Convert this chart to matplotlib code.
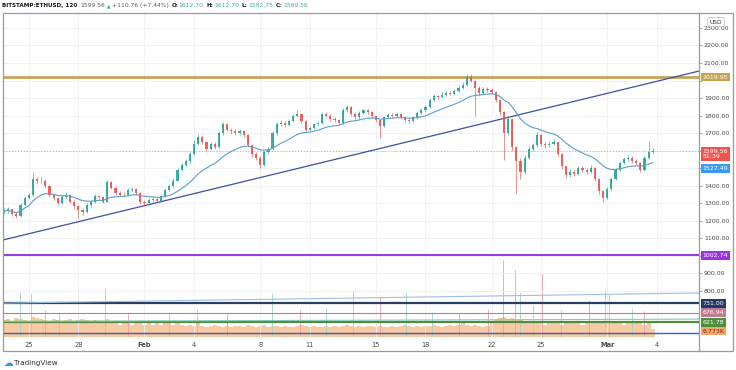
import numpy as np
import pandas as pd
import matplotlib
matplotlib.use("Agg")
import matplotlib.pyplot as plt
from matplotlib.lines import Line2D
from matplotlib.patches import Rectangle

W, H = 736, 370

# 6h candles, x in days counted from Feb 1 (first candle Jan 23 12:00)
first_day = -8.5
step = 0.25

closes = [1255, 1265, 1240, 1228, 1290, 1330, 1345, 1440, 1425, 1430,
          1400, 1350, 1330, 1300, 1335, 1350, 1310, 1285, 1260, 1250,
          1290, 1305, 1340, 1335, 1310, 1420, 1390, 1360, 1350, 1345,
          1375, 1380, 1360, 1310, 1300, 1320, 1325, 1315, 1340, 1375,
          1400, 1430, 1490, 1520, 1540, 1580, 1640, 1680, 1650, 1610,
          1640, 1620, 1700, 1750, 1720, 1710, 1700, 1710, 1690, 1630,
          1580, 1560, 1520, 1590, 1610, 1700, 1750, 1760, 1745, 1770,
          1800, 1810, 1770, 1720, 1730, 1750, 1760, 1810, 1800, 1780,
          1775, 1760, 1830, 1850, 1810, 1790, 1815, 1830, 1820, 1795,
          1775, 1740, 1790, 1805, 1800, 1810, 1790, 1775, 1770, 1790,
          1815, 1830, 1850, 1890, 1910, 1905, 1920, 1930, 1925, 1940,
          1960, 1975, 2020, 2000, 1960, 1930, 1950, 1945, 1935, 1890,
          1820, 1700, 1780, 1620, 1540, 1480, 1560, 1610, 1630, 1690,
          1640, 1630, 1640, 1650, 1580, 1510, 1460, 1480, 1470, 1500,
          1490, 1480, 1500, 1440, 1370, 1330, 1380, 1440, 1490, 1530,
          1550, 1560, 1540, 1530, 1490, 1560, 1590, 1599.56]
first_open = 1250

highs = [1272, 1280, 1270, 1248, 1300, 1340, 1358, 1478, 1450, 1448,
         1438, 1405, 1360, 1338, 1345, 1365, 1355, 1318, 1292, 1272,
         1300, 1318, 1352, 1350, 1342, 1435, 1425, 1398, 1370, 1362,
         1385, 1392, 1388, 1365, 1320, 1330, 1338, 1332, 1350, 1385,
         1412, 1442, 1500, 1532, 1555, 1592, 1660, 1695, 1688, 1658,
         1652, 1648, 1712, 1762, 1756, 1732, 1722, 1725, 1718, 1695,
         1638, 1590, 1568, 1600, 1622, 1712, 1762, 1775, 1768, 1782,
         1812, 1832, 1815, 1775, 1742, 1760, 1772, 1822, 1818, 1808,
         1790, 1782, 1842, 1862, 1855, 1818, 1825, 1840, 1838, 1825,
         1800, 1780, 1800, 1815, 1815, 1822, 1815, 1798, 1785, 1800,
         1825, 1842, 1862, 1902, 1922, 1920, 1932, 1942, 1940, 1952,
         1972, 1990, 2037, 2035, 2005, 1968, 1962, 1965, 1955, 1940,
         1895, 1828, 1795, 1788, 1628, 1560, 1575, 1625, 1645, 1705,
         1695, 1652, 1655, 1665, 1655, 1585, 1515, 1495, 1492, 1515,
         1512, 1500, 1518, 1505, 1445, 1378, 1392, 1452, 1502, 1542,
         1565, 1578, 1568, 1552, 1535, 1572, 1655, 1612.7]

lows = [1238, 1245, 1230, 1215, 1222, 1282, 1322, 1340, 1410, 1415,
        1390, 1335, 1318, 1290, 1295, 1325, 1300, 1270, 1216, 1235,
        1245, 1280, 1300, 1325, 1300, 1305, 1380, 1350, 1340, 1335,
        1340, 1365, 1350, 1298, 1285, 1292, 1310, 1305, 1308, 1335,
        1368, 1392, 1425, 1482, 1510, 1532, 1575, 1632, 1640, 1598,
        1602, 1608, 1615, 1692, 1710, 1698, 1690, 1692, 1680, 1620,
        1565, 1545, 1500, 1515, 1582, 1605, 1692, 1742, 1735, 1738,
        1762, 1792, 1760, 1708, 1712, 1722, 1742, 1755, 1790, 1770,
        1765, 1750, 1755, 1822, 1800, 1780, 1782, 1808, 1810, 1785,
        1765, 1672, 1735, 1782, 1790, 1792, 1780, 1765, 1758, 1762,
        1782, 1808, 1822, 1842, 1882, 1895, 1898, 1912, 1915, 1918,
        1932, 1952, 1968, 1990, 1800, 1918, 1922, 1935, 1922, 1878,
        1805, 1547, 1690, 1600, 1360, 1440, 1470, 1550, 1600, 1622,
        1628, 1618, 1620, 1632, 1570, 1498, 1445, 1450, 1458, 1462,
        1478, 1468, 1472, 1430, 1355, 1308, 1322, 1372, 1432, 1482,
        1522, 1540, 1530, 1518, 1478, 1485, 1552, 1582.75]

# volume in thousands
volumes = [15, 16, 14, 17, 16, 15, 14, 18, 17, 16, 15, 14, 16, 15, 14, 15, 16, 14, 15, 16,
           15, 14, 15, 14, 13, 16,
           13, 12, 11, 13, 12, 11, 12, 12, 11, 12, 11, 12, 11, 12, 12, 11, 12,
           11, 10, 11, 10, 12, 10, 9, 10, 11, 10, 9, 10, 9, 10, 10, 9, 11, 10, 9, 10,
           11, 9, 10, 10, 9, 10, 9, 9, 10, 11, 10, 9, 10, 9, 9, 10, 9, 10, 9, 10,
           11, 10, 9, 10, 9, 10, 10, 9, 10, 9, 9, 10, 9, 10, 11, 10, 9, 10, 9, 10,
           10, 11, 10, 9, 10, 11, 10, 11, 12, 11, 10, 11, 10, 9, 10,
           13, 15, 17, 18, 16, 17, 16, 15, 14,
           13, 12, 13, 12, 11, 12, 13, 12, 11, 12, 12, 13, 12, 11, 12, 13, 12, 12, 14, 13,
           12, 13, 12, 11, 12, 13, 12, 12, 11, 12,
           6.773]

# single 2h volume spikes (day, thousands)
spike_days = [-7.52, -6.86, -6.0, -5.2, -4.0, -2.37, -1.0, 1.5, 3.2, 5.0, 7.71, 9.4, 11.0,
              12.62, 14.26, 15.84, 17.4, 19.0, 20.8, 21.72, 22.39, 22.69, 23.5, 24.03,
              25.2, 26.88, 27.85, 28.09, 29.5, 30.2]
spike_vols = [39, 39, 24, 22, 43, 43, 20, 22, 25, 20, 39, 24, 26,
              42, 35, 39, 22, 21, 25, 68, 59, 40, 28, 57,
              24, 33, 42, 37, 26, 23]
spike_up = [1, 1, 0, 1, 0, 1, 0, 1, 1, 0, 1, 0, 1,
            1, 0, 1, 1, 0, 0, 0, 0, 1, 1, 0,
            0, 0, 1, 1, 1, 0]

tick_days = [-7, -4, 0, 3, 7, 10, 14, 17, 21, 24, 28, 31]
tick_labels = ["25", "28", "Feb", "4", "8", "11", "15", "18", "22", "25", "Mar", "4"]
price_ticks = [800, 900, 1000, 1100, 1200, 1300, 1400, 1500, 1600, 1700,
               1800, 1900, 2000, 2100, 2200, 2300]
hidden_ticks = [1000, 1500, 1600, 2000]   # sit under the price tags

# horizontal levels drawn on the chart
level_prices = [2019.95, 1002.74, 731.00, 676.94, 621.78]
level_colors = ["#c9a459", "#9b34e6", "#263f63", "#c27a92", "#4e8d3a"]
level_widths = [2.0, 1.4, 1.6, 0.8, 1.6]

# trend lines (two anchors each)
trend_days = [-8.56, 33.55]
trend_main = [1091, 2054]
trend_light = [731, 789]
trend_teal = [627, 640]
vol_line = 563

last_price = 1599.56
ma_span = 18

up_col, dn_col = "#26a69a", "#ef5350"

days = first_day + step * np.arange(len(closes))
opens = [first_open] + closes[:-1]
cols = [up_col if c >= o else dn_col for o, c in zip(opens, closes)]
ma = pd.Series(closes).ewm(span=ma_span, adjust=True).mean()

fig = plt.figure(figsize=(W / 100, H / 100), dpi=100)
fig.patch.set_facecolor("white")

L, R, T, B = 3, 699, 13, 337
ax = fig.add_axes([L / W, 1 - B / H, (R - L) / W, (B - T) / H])
ax2 = ax.twinx()
ax2.set_zorder(ax.get_zorder() - 1)
ax.patch.set_visible(False)
ax2.patch.set_facecolor("white")

ax.set_xlim(-8.56, 33.55)
ax.set_ylim(538, 2385)
ax2.set_ylim(0, 287)

# grid and axes
ax.set_xticks(tick_days)
ax.set_xticklabels(tick_labels)
ax.set_yticks(price_ticks)
ax.set_yticklabels(["" if p in hidden_ticks else "%.2f" % p for p in price_ticks])
ax.grid(True, color="#eef0f3", lw=0.6)
ax.set_axisbelow(True)
for s in list(ax.spines.values()) + list(ax2.spines.values()):
    s.set_visible(False)
ax.yaxis.tick_right()
ax.tick_params(axis="y", labelsize=4.5, labelcolor="#4a4a4a", length=2, width=0.5,
               color="#888888", pad=1.5)
ax.tick_params(axis="x", labelsize=4.8, labelcolor="#4a4a4a", length=0, pad=3.5)
for lab in ax.get_xticklabels():
    if lab.get_text() in ("Feb", "Mar"):
        lab.set_fontweight("bold")
ax2.set_yticks([])

# volume
ax2.bar(days, volumes, width=step, color="#f7c9a4", lw=0)
ax2.vlines(spike_days, 0, spike_vols,
           colors=["#9fd3c8" if u else "#eaa0a6" for u in spike_up], lw=0.6)

# levels and drawings
for p, c, w in zip(level_prices, level_colors, level_widths):
    ax.axhline(p, color=c, lw=w, zorder=2)
ax.plot(trend_days, trend_light, color="#9cc0dd", lw=0.8, zorder=2)
ax.plot(trend_days, trend_teal, color="#86c8bb", lw=0.8, zorder=2)
ax.axhline(vol_line, color="#3563b5", lw=1.0, zorder=2)
ax.plot(trend_days, trend_main, color="#3e4fa3", lw=0.9, zorder=3)
ax.axhline(last_price, color="#b5b5b5", lw=0.7, ls=(0, (1, 2)), zorder=2)

# candles
ax.vlines(days, lows, highs, colors=cols, lw=0.5, alpha=0.9, zorder=4)
body_lo = np.minimum(opens, closes)
body_h = np.maximum(np.abs(np.array(closes) - np.array(opens)), 3)
ax.bar(days, body_h, bottom=body_lo, width=0.13, color=cols, alpha=0.9, lw=0, zorder=4)
ax.plot(days, ma, color="#5b9ccc", lw=0.8, zorder=5)


def price_tag(a, y, text, bg, fg="white", dy=0):
    a.annotate(text, xy=(1, y), xycoords=a.get_yaxis_transform(),
               xytext=(2.6, dy), textcoords="offset points", ha="left", va="center",
               fontsize=4.5, color=fg, linespacing=1.05, zorder=10, annotation_clip=False,
               bbox=dict(boxstyle="square,pad=0.3", fc=bg, ec="none"))


price_tag(ax, 2019.95, "2019.95", "#c8a24f")
price_tag(ax, last_price, "1599.56\n51:39", "#ef5350", dy=-2.6)
price_tag(ax, 1527.49, "1527.49", "#3d9af0", dy=-3.6)   # pushed down by the tag above
price_tag(ax, 1002.74, "1002.74", "#9b34e6")
price_tag(ax, 731.00, "731.00", "#1f3a63")
price_tag(ax, 676.94, "676.94", "#c27a92")
price_tag(ax, 621.78, "621.78", "#4e8d3a")
price_tag(ax, 572, "6.773K", "#f5a46d", fg="#6b2d0c")

# USD box
fig.text(716 / W, 1 - 22 / H, "USD", fontsize=4.2, color="#333333", ha="center", va="center",
         bbox=dict(boxstyle="round,pad=0.35,rounding_size=0.3", fc="white", ec="#b8b8b8", lw=0.5),
         zorder=20)

# frame
fig.add_artist(Rectangle((3 / W, 1 - 351 / H), 730 / W, 338 / H, transform=fig.transFigure,
                         fill=False, ec="#9a9a9a", lw=0.9))
fig.add_artist(Line2D([R / W, R / W], [1 - 351 / H, 1 - 13 / H], transform=fig.transFigure,
                      color="#9a9a9a", lw=0.9))

# header line
fig.canvas.draw()
renderer = fig.canvas.get_renderer()
pieces = [("BITSTAMP:ETHUSD, 120", "#131722", "bold", 3),
          ("1599.56", "#5a5a5a", "normal", 1.5),
          ("\u25b2", "#26a69a", "normal", 1.5),
          ("+110.76 (+7.44%)", "#5a5a5a", "normal", 3),
          ("O:", "#131722", "bold", 0.5), ("1612.70", "#3fa89b", "normal", 3),
          ("H:", "#131722", "bold", 0.5), ("1612.70", "#3fa89b", "normal", 3),
          ("L:", "#131722", "bold", 0.5), ("1582.75", "#3fa89b", "normal", 3),
          ("C:", "#131722", "bold", 0.5), ("1599.56", "#3fa89b", "normal", 3)]
x = 2
for txt, c, wgt, gap in pieces:
    fs = 3.3 if txt == "\u25b2" else (4.05 if wgt == "bold" else 4.3)
    t = fig.text(x / W, 1 - 5.5 / H, txt, fontsize=fs, color=c, fontweight=wgt, va="center")
    x = t.get_window_extent(renderer).x1 + gap

# TradingView logo
fig.text(3 / W, 1 - 363 / H, "\u2601", fontsize=7, color="#2e9be6", va="center")
fig.text(14 / W, 1 - 363 / H, "TradingView", fontsize=5.2, color="#333333", va="center")

fig.savefig("out.png", dpi=100)
